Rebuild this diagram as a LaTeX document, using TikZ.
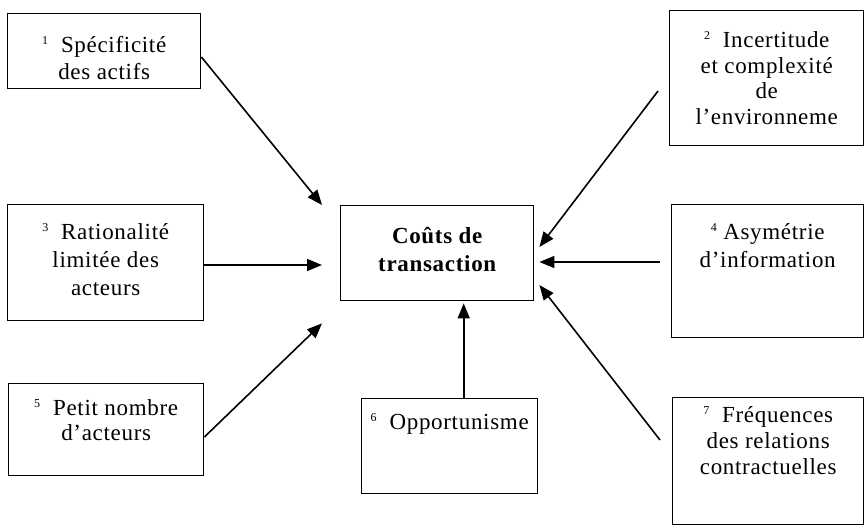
\documentclass[tikz,border=0pt]{standalone}
\usepackage{fontspec}
\setmainfont{Liberation Serif}[LetterSpace=3]
\usetikzlibrary{arrows.meta,calc}

% small raised number in front of a factor
\newcommand\idx[1]{\raisebox{8pt}{\fontsize{12}{12}\selectfont #1}}
% fixed-size text block: width, height, first baseline, line skip, text
\newcommand\boxtxt[5]{\parbox[c][#2][t]{#1}{\centering\fontsize{23}{#4}\selectfont\rule{0pt}{#3}#5\par}}

\begin{document}
\begin{tikzpicture}[x=1pt,y=-1pt,
  box/.style={draw,line width=1.4pt,inner sep=0pt,anchor=north west},
  link/.style={line width=1.6pt,-{Triangle[length=15pt,width=12pt]}}]
\useasboundingbox (0,0) rectangle (865,530);

% central box
\node[box] (c) at (340,205)
  {\boxtxt{193pt}{95pt}{38pt}{28pt}{\bfseries\fontsize{23}{28}\selectfont Coûts de\\transaction}};

% factors
\node[box] (b1) at (7,13)
  {\boxtxt{193pt}{75pt}{39pt}{27pt}{\idx{1}\ \ Spécificité\\des actifs}};
\node[box] (b2) at (669,10)
  {\boxtxt{194pt}{135pt}{37pt}{25.5pt}{\idx{2}\ \ Incertitude\\et complexité\\de\\l'environneme}};
\node[box] (b3) at (7,204)
  {\boxtxt{196pt}{116pt}{35pt}{28pt}{\idx{3}\ \ Rationalité\\limitée des\\acteurs}};
\node[box] (b4) at (671,204)
  {\boxtxt{192pt}{133pt}{35pt}{28pt}{\idx{4}\ Asymétrie\\d'information}};
\node[box] (b5) at (8,383)
  {\boxtxt{195pt}{92pt}{32pt}{25pt}{\idx{5}\ \ Petit nombre\\d'acteurs}};
\node[box] (b6) at (361,398)
  {\boxtxt{176pt}{95pt}{31pt}{26pt}{\idx{6}\ \ Opportunisme}};
\node[box] (b7) at (672,397)
  {\boxtxt{191pt}{127pt}{25pt}{26pt}{\idx{7}\ \ Fréquences\\des relations\\contractuelles}};

% arrow ends around the central box
\coordinate (s1) at ($(b1.north east)+(0,44)$);
\coordinate (t1) at ($(c.north west)+(-18,0)$);
\coordinate (s2) at ($(b2.north west)+(-11,81)$);
\coordinate (t2) at ($(c.north east)+(5,42)$);
\coordinate (s3) at ($(b3.north east)+(0,61)$);
\coordinate (t3) at ($(c.north west)+(-18,60)$);
\coordinate (s4) at ($(b4.north west)+(-11,58)$);
\coordinate (t4) at ($(c.north east)+(5,57)$);
\coordinate (s5) at ($(b5.north east)+(0,54)$);
\coordinate (t5) at ($(c.south west)+(-18,22)$);
\coordinate (s6) at ($(b6.north)+(14,0)$);
\coordinate (t6) at ($(c.south)+(26.5,2)$);
\coordinate (s7) at ($(b7.north west)+(-12,43)$);
\coordinate (t7) at ($(c.north east)+(5,80)$);

\draw[link] (s1) -- (t1);
\draw[link] (s2) -- (t2);
\draw[link] (s3) -- (t3);
\draw[link] (s4) -- (t4);
\draw[link] (s5) -- (t5);
\draw[link] (s6) -- (t6);
\draw[link] (s7) -- (t7);
\end{tikzpicture}
\end{document}
